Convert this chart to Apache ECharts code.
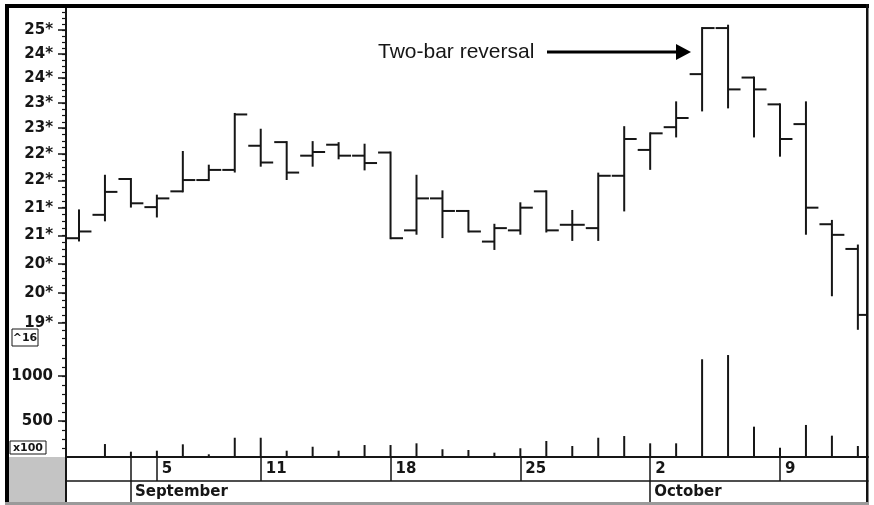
<!DOCTYPE html>
<html>
<head>
<meta charset="utf-8">
<script src="https://cdn.jsdelivr.net/npm/echarts@6/dist/echarts.min.js"></script>
<style>
html,body{margin:0;padding:0;background:#fff;}
#c{width:874px;height:505px;}
</style>
</head>
<body>
<div id="c"></div>
<script>
// ---- data ----
const dates = ['30','31','1','5','6','7','8','11','12','13','14','15','18','19','20','21','22','25','26','27','28','29','2','3','4','5','6','9','10','11','12'];
const weekStartIdx = [3, 7, 12, 17, 22, 27];
const monthStartIdx = [2, 22];
const monthNames = ['September', 'October'];
const opens  = [20.95,21.37,22.03,21.51,21.80,22.01,22.20,22.66,22.73,22.47,22.68,22.47,22.53,21.09,21.67,21.44,20.89,21.09,21.80,21.19,21.13,22.09,22.58,23.02,24.08,25.04,24.01,23.47,23.08,21.20,20.76];
const highs  = [21.45,22.09,22.03,21.72,22.54,22.28,23.28,22.97,22.73,22.73,22.71,22.68,22.53,22.09,21.80,21.44,21.19,21.58,21.80,21.44,22.13,23.02,22.90,23.51,25.04,25.09,24.01,23.47,23.51,21.26,20.82];
const lows   = [20.91,21.27,21.52,21.34,21.80,22.01,22.17,22.28,22.03,22.28,22.42,22.21,20.95,21.03,20.97,21.07,20.76,21.03,21.07,20.92,20.92,21.45,22.22,22.84,23.35,23.41,22.84,22.47,21.03,19.96,19.40];
const closes = [21.07,21.79,21.58,21.67,22.01,22.20,23.27,22.34,22.15,22.54,22.47,22.33,20.95,21.67,21.44,21.07,21.13,21.50,21.09,21.19,22.09,22.79,22.90,23.20,25.04,23.77,23.77,22.79,21.50,21.01,19.63];
const volumes = [null,244,159,170,241,130,314,314,170,214,170,233,233,252,186,178,148,197,278,222,314,333,252,252,1186,1233,437,203,456,337,222];
const priceTickValues = [25,24.5,24,23.5,23,22.5,22,21.5,21,20.5,20,19.5];
const priceTickLabels = ['25*','24*','24*','23*','23*','22*','22*','21*','21*','20*','20*','19*'];
const volTickValues = [500, 1000];
const volTickLabels = ['500', '1000'];
const annotationText = 'Two-bar reversal';

// ---- axis ranges ----
const priceMin = 19.07, priceMax = 25.47;   // log-scaled price panel
const volMin = 100, volMax = 1300;
const xMin = -0.5, xMax = 30.39;

const ln = Math.log;
const minorPriceTicks = [];
for (let v = 19.125; v < 25.45; v += 0.125) minorPriceTicks.push(ln(v));
const minorVolTicks = [];
for (let v = 200; v <= 1200; v += 100) minorVolTicks.push(v);

const ohlc = dates.map((d, i) => [i, ln(opens[i]), ln(highs[i]), ln(lows[i]), ln(closes[i])]);
const vol = dates.map((d, i) => [i, volumes[i]]);

const INK = '#161616';
const FONT = 'DejaVu Sans';

const chart = echarts.init(document.getElementById('c'), null, {renderer: 'canvas'});

function priceLabel(v) {
  for (let i = 0; i < priceTickValues.length; i++) {
    if (Math.abs(ln(priceTickValues[i]) - v) < 1e-6) return priceTickLabels[i];
  }
  return '';
}
function volLabel(v) {
  const i = volTickValues.indexOf(Math.round(v));
  return i >= 0 ? volTickLabels[i] : '';
}

const option = {
  animation: false,
  backgroundColor: '#ffffff',
  grid: [
    {left: 66, right: 6, top: 8, height: 341},
    {left: 66, right: 6, top: 349, height: 108}
  ],
  xAxis: [
    {gridIndex: 0, type: 'value', min: xMin, max: xMax, show: false},
    {gridIndex: 1, type: 'value', min: xMin, max: xMax, position: 'bottom', splitLine: {show: false},
      axisLine: {show: true, onZero: false, lineStyle: {color: INK, width: 2}},
      axisTick: {show: true, customValues: monthStartIdx.concat(weekStartIdx), length: 24, lineStyle: {color: INK, width: 1.5}},
      axisLabel: {show: true, customValues: weekStartIdx, formatter: v => dates[Math.round(v)],
        align: 'left', verticalAlign: 'middle', margin: 12, padding: [0, 0, 0, 5],
        color: INK, fontFamily: FONT, fontWeight: 'bold', fontSize: 15}
    },
    {gridIndex: 1, type: 'value', min: xMin, max: xMax, position: 'bottom', offset: 24, splitLine: {show: false},
      axisLine: {show: true, onZero: false, lineStyle: {color: INK, width: 1.5}},
      axisTick: {show: true, customValues: monthStartIdx, length: 22, lineStyle: {color: INK, width: 1.5}},
      axisLabel: {show: true, customValues: monthStartIdx, formatter: v => monthNames[monthStartIdx.indexOf(Math.round(v))],
        align: 'left', verticalAlign: 'middle', margin: 11, padding: [0, 0, 0, 4],
        color: INK, fontFamily: FONT, fontWeight: 'bold', fontSize: 15}
    }
  ],
  yAxis: [
    {gridIndex: 0, type: 'value', min: ln(priceMin), max: ln(priceMax), position: 'left', offset: 0, splitLine: {show: false},
      axisLine: {show: true, onZero: false, lineStyle: {color: INK, width: 2}},
      axisTick: {show: true, customValues: priceTickValues.map(ln), length: 8, lineStyle: {color: INK, width: 1.5}},
      axisLabel: {show: true, customValues: priceTickValues.map(ln), formatter: priceLabel, margin: 13,
        color: INK, fontFamily: FONT, fontWeight: 'bold', fontSize: 15}
    },
    {gridIndex: 0, type: 'value', min: ln(priceMin), max: ln(priceMax), position: 'left', offset: 0, splitLine: {show: false},
      axisLine: {show: false, onZero: false},
      axisTick: {show: true, customValues: minorPriceTicks, length: 4, lineStyle: {color: INK, width: 1.2}},
      axisLabel: {show: false}
    },
    {gridIndex: 1, type: 'value', min: volMin, max: volMax, position: 'left', offset: 0, splitLine: {show: false},
      axisLine: {show: true, onZero: false, lineStyle: {color: INK, width: 2}},
      axisTick: {show: true, customValues: volTickValues, length: 8, lineStyle: {color: INK, width: 1.5}},
      axisLabel: {show: true, customValues: volTickValues, formatter: volLabel, margin: 13,
        color: INK, fontFamily: FONT, fontWeight: 'bold', fontSize: 15}
    },
    {gridIndex: 1, type: 'value', min: volMin, max: volMax, position: 'left', offset: 0, splitLine: {show: false},
      axisLine: {show: false, onZero: false},
      axisTick: {show: true, customValues: minorVolTicks, length: 4, lineStyle: {color: INK, width: 1.2}},
      axisLabel: {show: false}
    }
  ],
  series: [
    {
      type: 'custom', xAxisIndex: 0, yAxisIndex: 0, clip: true,
      encode: {x: 0, y: [1, 2, 3, 4]},
      data: ohlc,
      renderItem: function (params, api) {
        const x = api.value(0);
        const o = api.coord([x, api.value(1)]);
        const h = api.coord([x, api.value(2)]);
        const l = api.coord([x, api.value(3)]);
        const c = api.coord([x, api.value(4)]);
        const w = api.size([1, 0])[0] * 0.48;
        const st = {stroke: INK, lineWidth: 2};
        return {type: 'group', children: [
          {type: 'line', shape: {x1: h[0], y1: h[1] - 1, x2: l[0], y2: l[1] + 1}, style: st},
          {type: 'line', shape: {x1: o[0] - w, y1: o[1], x2: o[0], y2: o[1]}, style: st},
          {type: 'line', shape: {x1: c[0], y1: c[1], x2: c[0] + w, y2: c[1]}, style: st}
        ]};
      }
    },
    {
      type: 'bar', xAxisIndex: 1, yAxisIndex: 2, clip: true,
      barWidth: 2, data: vol, itemStyle: {color: INK}
    }
  ],
  graphic: [
    // grey corner box
    {type: 'rect', shape: {x: 8, y: 457, width: 58, height: 47}, style: {fill: '#c4c4c4'}, z: 10},
    {type: 'line', shape: {x1: 66, y1: 457, x2: 66, y2: 504}, style: {stroke: INK, lineWidth: 2}, z: 11},
    // frame
    {type: 'rect', shape: {x: 5, y: 4, width: 864, height: 4}, style: {fill: '#000'}, z: 20},
    {type: 'rect', shape: {x: 5, y: 4, width: 4, height: 501}, style: {fill: '#000'}, z: 20},
    {type: 'rect', shape: {x: 866, y: 4, width: 2.5, height: 501}, style: {fill: '#111'}, z: 20},
    {type: 'rect', shape: {x: 5, y: 502, width: 864, height: 3}, style: {fill: '#9a9a9a'}, z: 20},
    // scale boxes
    {type: 'rect', shape: {x: 12, y: 329, width: 26, height: 17}, style: {fill: '#fff', stroke: INK, lineWidth: 1}, z: 12},
    {type: 'text', x: 25, y: 338, style: {text: '^16', fill: INK, font: 'bold 11px "DejaVu Sans"', align: 'center', verticalAlign: 'middle'}, z: 13},
    {type: 'rect', shape: {x: 10, y: 441, width: 36, height: 13}, style: {fill: '#fff', stroke: INK, lineWidth: 1}, z: 12},
    {type: 'text', x: 28, y: 448, style: {text: 'x100', fill: INK, font: 'bold 11px "DejaVu Sans"', align: 'center', verticalAlign: 'middle'}, z: 13},
    // annotation
    {type: 'text', x: 378, y: 52, style: {text: annotationText, fill: INK, font: '21px "Liberation Sans"', align: 'left', verticalAlign: 'middle'}, z: 13},
    {type: 'line', shape: {x1: 547, y1: 52, x2: 678, y2: 52}, style: {stroke: '#000', lineWidth: 3}, z: 13},
    {type: 'polygon', shape: {points: [[676, 44], [691, 52], [676, 60]]}, style: {fill: '#000'}, z: 13}
  ]
};
chart.setOption(option);
</script>
</body>
</html>
